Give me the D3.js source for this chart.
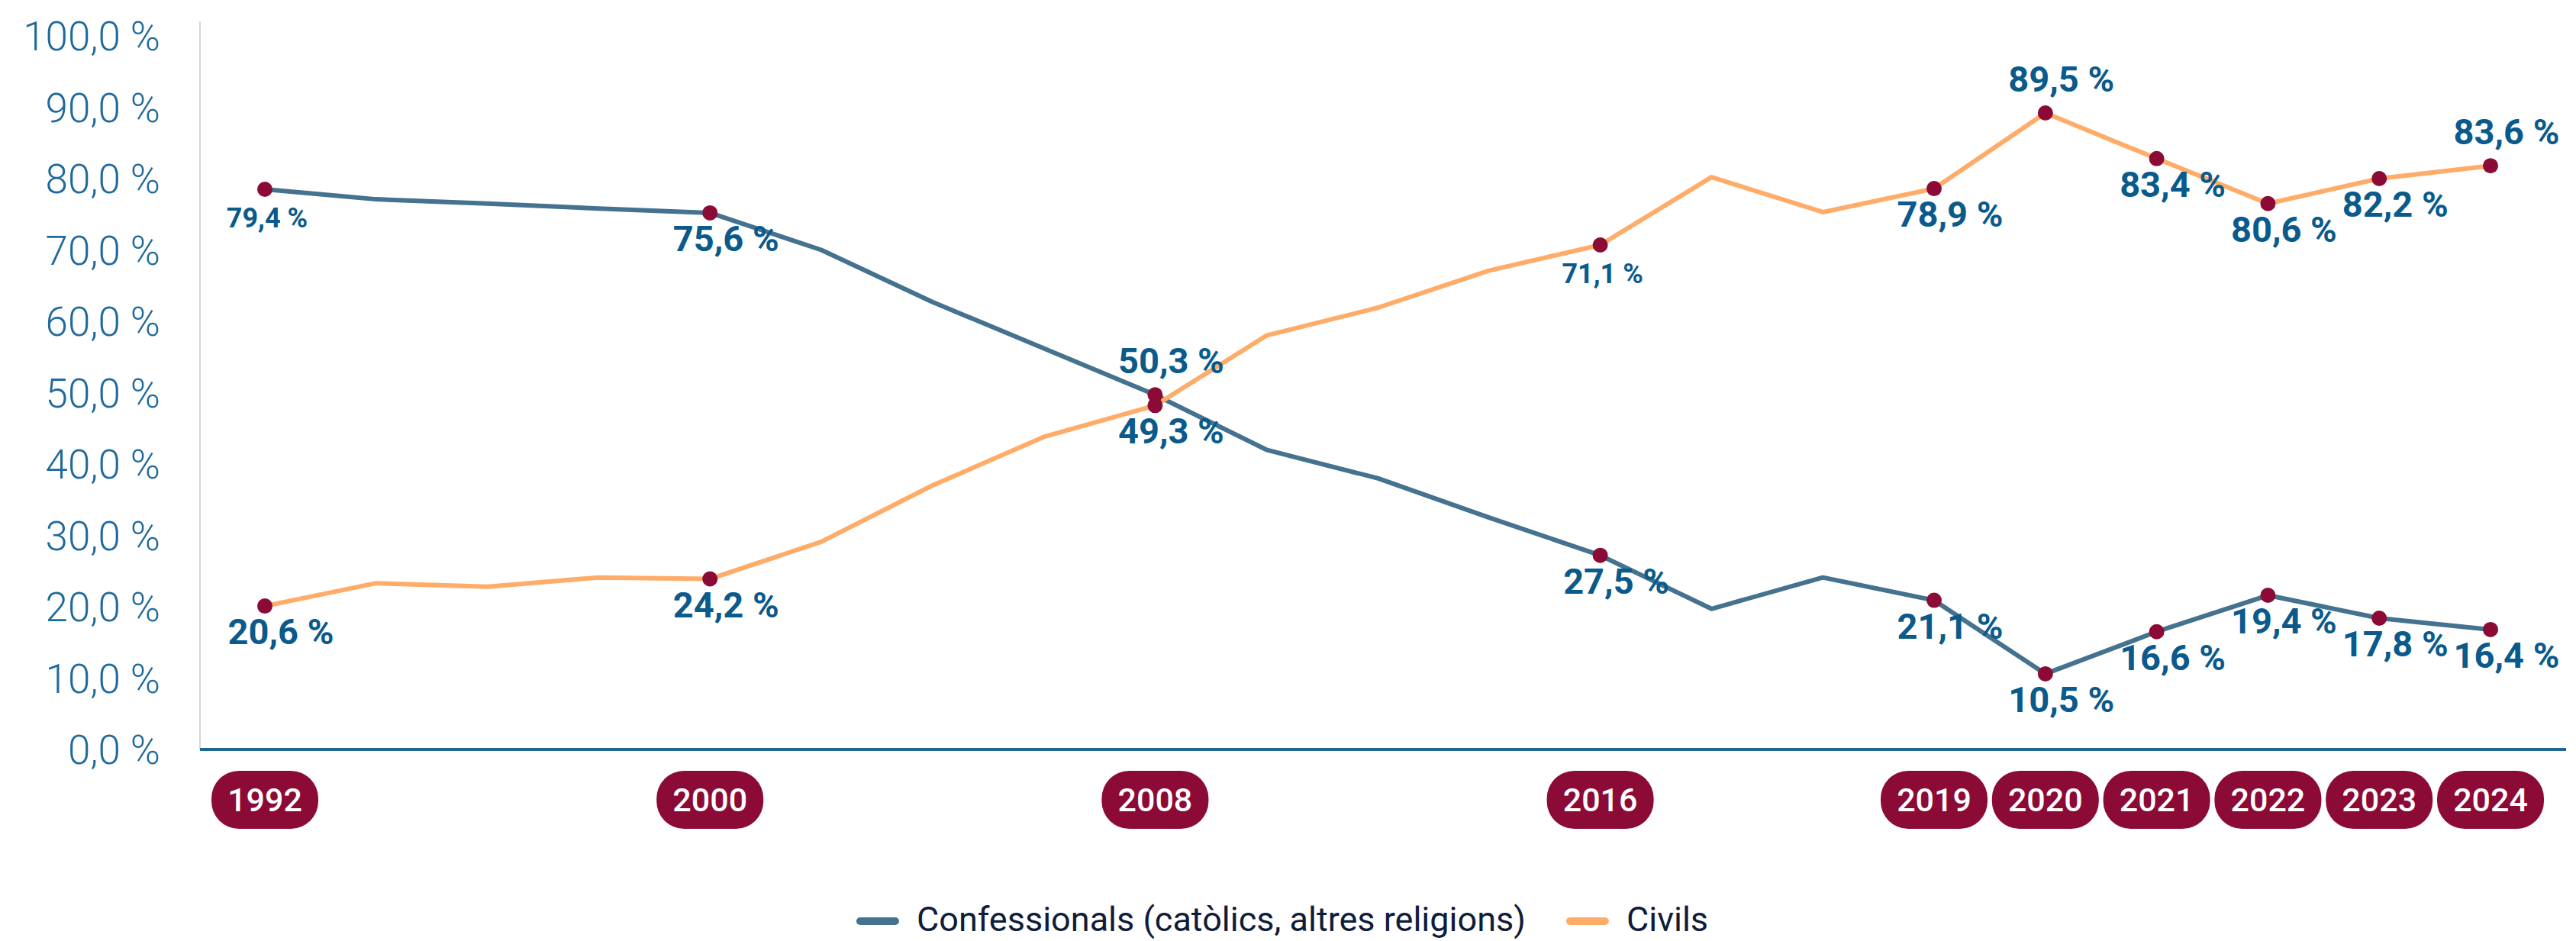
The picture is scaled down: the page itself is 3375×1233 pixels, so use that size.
<!DOCTYPE html>
<html>

<head>
  <meta charset="utf-8">
  <title>Casaments confessionals i civils</title>
  <style>
  body {
    margin: 0px;
    background: #ffffff;
  }
  text {
    font-family: Roboto, "Open Sans", sans-serif;
  }
  .line {
    fill: none;
    stroke-width: 6px;
    stroke-linejoin: round;
  }
  </style>
</head>

<body>
  <svg width="3375" height="1233"></svg>
  <script src="https://d3js.org/d3.v7.min.js"></script>
  <script>
  // data
  var years = ["1992", "1994", "1996", "1998", "2000", "2002", "2004", "2006", "2008", "2010", "2012",
    "2014", "2016", "2017", "2018", "2019", "2020", "2021", "2022", "2023", "2024"];
  var confessionals = [78.5, 77.1, 76.5, 75.8, 75.2, 70.0, 62.7, 56.2, 49.7, 42.0, 38.0,
    32.5, 27.2, 19.7, 24.1, 20.9, 10.6, 16.5, 21.6, 18.4, 16.8];
  var civils = [20.1, 23.3, 22.8, 24.1, 23.9, 29.1, 37.0, 43.8, 48.2, 58.0, 61.9,
    67.1, 70.7, 80.2, 75.3, 78.6, 89.2, 82.8, 76.5, 80.0, 81.8];
  var markedYears = ["1992", "2000", "2008", "2016", "2019", "2020", "2021", "2022", "2023", "2024"];
  var confLabels = [79.4, 75.6, 50.3, 27.5, 21.1, 10.5, 16.6, 19.4, 17.8, 16.4];
  var civLabels = [20.6, 24.2, 49.3, 71.1, 78.9, 89.5, 83.4, 80.6, 82.2, 83.6];
  var yTicks = [0, 10, 20, 30, 40, 50, 60, 70, 80, 90, 100];
  var seriesNames = ["Confessionals (catòlics, altres religions)", "Civils"];

  // where each value label sits relative to its dot
  var confPlace = ["small", "below", "above", "below", "below", "below", "below", "below", "below", "below"];
  var civPlace = ["below", "below", "below", "small", "below", "above", "below", "below", "below", "above"];

  var colors = {
    conf: "#44728f",
    civ: "#ffac69",
    dot: "#8c0b36",
    label: "#0a5a8b",
    tick: "#1f6a9c",
    axis: "#1d6696",
    legend: "#0f1c3a"
  };

  var svg = d3.select("svg");

  var x = d3.scalePoint()
    .domain(years)
    .range([347, 3263]);

  var y = d3.scaleLinear()
    .domain([0, 100])
    .range([982, 47]);

  function pct(v) {
    return v.toFixed(1).replace(".", ",") + " %";
  }

  // left axis line
  svg.append("line")
    .attr("x1", 262).attr("x2", 262)
    .attr("y1", 28).attr("y2", y(0))
    .attr("stroke", "#ddd3d8")
    .attr("stroke-width", 2);

  // y tick labels
  svg.selectAll(".ytick")
    .data(yTicks)
    .enter()
    .append("text")
    .attr("class", "ytick")
    .attr("x", 210)
    .attr("y", function(d) { return y(d); })
    .attr("dy", "0.36em")
    .style("text-anchor", "end")
    .attr("font-size", 53)
    .attr("font-weight", 300)
    .attr("fill", colors.tick)
    .text(pct);

  // bottom axis
  svg.append("line")
    .attr("x1", 262).attr("x2", 3362)
    .attr("y1", y(0)).attr("y2", y(0))
    .attr("stroke", colors.axis)
    .attr("stroke-width", 4);

  // lines
  var line = d3.line()
    .x(function(d, i) { return x(years[i]); })
    .y(function(d) { return y(d); });

  svg.append("path")
    .datum(confessionals)
    .attr("class", "line")
    .attr("stroke", colors.conf)
    .attr("d", line);

  svg.append("path")
    .datum(civils)
    .attr("class", "line")
    .attr("stroke", colors.civ)
    .attr("d", line);

  // dots and value labels
  function marks(values, labels, place) {
    var pts = markedYears.map(function(yr, i) {
      return {
        year: yr,
        value: values[years.indexOf(yr)],
        label: labels[i],
        place: place[i]
      };
    });

    svg.append("g").selectAll("circle")
      .data(pts)
      .enter()
      .append("circle")
      .attr("cx", function(d) { return x(d.year); })
      .attr("cy", function(d) { return y(d.value); })
      .attr("r", 10)
      .attr("fill", colors.dot);

    svg.append("g").selectAll("text")
      .data(pts)
      .enter()
      .append("text")
      .attr("x", function(d) { return x(d.year) + (d.place == "small" ? 3 : 21); })
      .attr("y", function(d) {
        if (d.place == "above") return y(d.value) - 28;
        return y(d.value) + 50;
      })
      .style("text-anchor", "middle")
      .attr("font-size", function(d) { return d.place == "small" ? 36 : 47; })
      .attr("font-weight", 700)
      .attr("fill", colors.label)
      .text(function(d) { return pct(d.label); });
  }

  marks(confessionals, confLabels, confPlace);
  marks(civils, civLabels, civPlace);

  // year pills
  var pills = svg.append("g").selectAll("g")
    .data(markedYears)
    .enter()
    .append("g")
    .attr("transform", function(d) { return "translate(" + x(d) + ",1048)"; });

  pills.append("rect")
    .attr("x", -70)
    .attr("y", -38)
    .attr("width", 140)
    .attr("height", 76)
    .attr("rx", 36)
    .attr("fill", colors.dot);

  pills.append("text")
    .attr("dy", "0.36em")
    .style("text-anchor", "middle")
    .attr("font-size", 43)
    .attr("font-weight", 500)
    .attr("fill", "#ffffff")
    .text(function(d) { return d; });

  // legend
  var legend = svg.append("g");
  var lx = 0;
  var swatch = 56;
  [colors.conf, colors.civ].forEach(function(c, i) {
    legend.append("line")
      .attr("x1", lx + 5).attr("x2", lx + swatch - 5)
      .attr("y1", 1207).attr("y2", 1207)
      .attr("stroke", c)
      .attr("stroke-width", 10)
      .attr("stroke-linecap", "round");
    var t = legend.append("text")
      .attr("x", lx + swatch + 23)
      .attr("y", 1220)
      .attr("font-size", 45)
      .attr("fill", colors.legend)
      .text(seriesNames[i]);
    lx += swatch + 23 + t.node().getComputedTextLength() + 53;
  });
  var lw = lx - 53;
  legend.attr("transform", "translate(" + (1680 - lw / 2) + ",0)");
  </script>
</body>

</html>
